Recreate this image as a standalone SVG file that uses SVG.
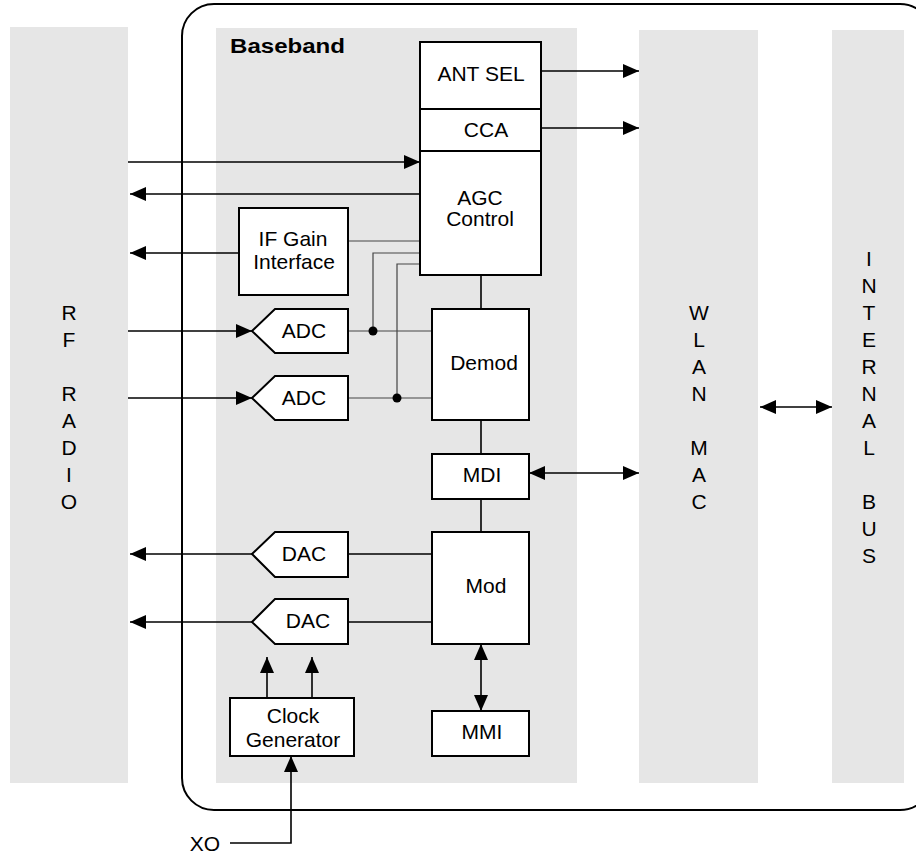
<svg xmlns="http://www.w3.org/2000/svg" width="916" height="855" viewBox="0 0 916 855">
<style>
.panel{fill:#e6e6e6;stroke:none}
.box{fill:#fff;stroke:#000;stroke-width:2}
.t{font-family:"Liberation Sans",Arial,sans-serif;font-size:21px;fill:#000;text-anchor:middle}
.b{font-family:"Liberation Sans",Arial,sans-serif;font-size:20px;font-weight:bold;fill:#000}
.ln{fill:none;stroke:#000;stroke-width:1.6}
.lg{fill:none;stroke:#444;stroke-width:1.2}
</style>
<defs>
<marker id="ah" markerUnits="userSpaceOnUse" markerWidth="17" markerHeight="15" refX="16" refY="7" orient="auto-start-reverse" viewBox="0 0 17 15">
<path d="M0,0 L16,7 L0,14 z" fill="#000"/>
</marker>
</defs>
<rect width="916" height="855" fill="#fff"/>
<g id="rf-radio">
<rect class="panel" x="10" y="27" width="118" height="756"/>
<text class="t" x="69" y="319.5">R</text>
<text class="t" x="69" y="346.5">F</text>
<text class="t" x="69" y="400.5">R</text>
<text class="t" x="69" y="427.5">A</text>
<text class="t" x="69" y="454.5">D</text>
<text class="t" x="69" y="481.5">I</text>
<text class="t" x="69" y="508.5">O</text>
</g>
<g id="outer-chip">
<rect x="182" y="4" width="750" height="806" rx="32" ry="32" fill="none" stroke="#000" stroke-width="2"/>
</g>
<g id="baseband">
<rect class="panel" x="216" y="28" width="361" height="755"/>
<text class="b" x="230" y="53" textLength="115" lengthAdjust="spacingAndGlyphs">Baseband</text>
</g>
<g id="wlan-mac">
<rect class="panel" x="639" y="30" width="119" height="753"/>
<text class="t" x="699" y="319.5">W</text>
<text class="t" x="699" y="346.5">L</text>
<text class="t" x="699" y="373.5">A</text>
<text class="t" x="699" y="400.5">N</text>
<text class="t" x="699" y="454.5">M</text>
<text class="t" x="699" y="481.5">A</text>
<text class="t" x="699" y="508.5">C</text>
</g>
<g id="internal-bus">
<rect class="panel" x="832" y="30" width="72" height="753"/>
<text class="t" x="869" y="265.5">I</text>
<text class="t" x="869" y="292.5">N</text>
<text class="t" x="869" y="319.5">T</text>
<text class="t" x="869" y="346.5">E</text>
<text class="t" x="869" y="373.5">R</text>
<text class="t" x="869" y="400.5">N</text>
<text class="t" x="869" y="427.5">A</text>
<text class="t" x="869" y="454.5">L</text>
<text class="t" x="869" y="508.5">B</text>
<text class="t" x="869" y="535.5">U</text>
<text class="t" x="869" y="562.5">S</text>
</g>
<g id="connectors">
<line class="ln" x1="541" y1="71" x2="639" y2="71" marker-end="url(#ah)"/>
<line class="ln" x1="541" y1="128" x2="639" y2="128" marker-end="url(#ah)"/>
<line class="ln" x1="128" y1="162" x2="420" y2="162" marker-end="url(#ah)"/>
<line class="ln" x1="420" y1="194" x2="130" y2="194" marker-end="url(#ah)"/>
<line class="ln" x1="239" y1="253" x2="130" y2="253" marker-end="url(#ah)"/>
<line class="lg" x1="348" y1="241" x2="420" y2="241"/>
<polyline class="lg" points="420,253 373,253 373,331"/>
<polyline class="lg" points="420,264 397,264 397,398"/>
<line class="ln" x1="481" y1="275" x2="481" y2="309"/>
<line class="ln" x1="128" y1="331" x2="252" y2="331" marker-end="url(#ah)"/>
<line class="ln" x1="128" y1="398" x2="252" y2="398" marker-end="url(#ah)"/>
<line class="lg" x1="348" y1="331" x2="432" y2="331"/>
<line class="lg" x1="348" y1="398" x2="432" y2="398"/>
<circle cx="373" cy="331" r="4.5" fill="#000"/>
<circle cx="397" cy="398" r="4.5" fill="#000"/>
<line class="ln" x1="481" y1="420" x2="481" y2="454"/>
<line class="ln" x1="529" y1="473" x2="639" y2="473" marker-start="url(#ah)" marker-end="url(#ah)"/>
<line class="ln" x1="481" y1="499" x2="481" y2="532"/>
<line class="ln" x1="432" y1="554" x2="348" y2="554"/>
<line class="ln" x1="432" y1="622" x2="348" y2="622"/>
<line class="ln" x1="252" y1="554" x2="130" y2="554" marker-end="url(#ah)"/>
<line class="ln" x1="252" y1="622" x2="130" y2="622" marker-end="url(#ah)"/>
<line class="ln" x1="481" y1="644" x2="481" y2="711" marker-start="url(#ah)" marker-end="url(#ah)"/>
<line class="ln" x1="267" y1="698" x2="267" y2="657" marker-end="url(#ah)"/>
<line class="ln" x1="312" y1="698" x2="312" y2="657" marker-end="url(#ah)"/>
<polyline class="ln" points="230,843 291,843 291,756" marker-end="url(#ah)"/>
<line class="ln" x1="760" y1="407" x2="832" y2="407" marker-start="url(#ah)" marker-end="url(#ah)"/>
</g>
<g id="ant-sel">
<rect class="box" x="420" y="42" width="121" height="67"/>
<text class="t" x="481" y="81">ANT SEL</text>
</g>
<g id="cca">
<rect class="box" x="420" y="109" width="121" height="42"/>
<text class="t" x="486" y="137">CCA</text>
</g>
<g id="agc-control">
<rect class="box" x="420" y="151" width="121" height="124"/>
<text class="t" x="480" y="205">AGC</text>
<text class="t" x="480" y="226">Control</text>
</g>
<g id="if-gain">
<rect class="box" x="239" y="208" width="109" height="87"/>
<text class="t" x="293" y="246">IF Gain</text>
<text class="t" x="294" y="269">Interface</text>
</g>
<g id="adc1">
<path class="box" d="M252,331 L275,309 L348,309 L348,353 L275,353 Z"/>
<text class="t" x="304" y="338">ADC</text>
</g>
<g id="adc2">
<path class="box" d="M252,398 L275,376 L348,376 L348,420 L275,420 Z"/>
<text class="t" x="304" y="405">ADC</text>
</g>
<g id="demod">
<rect class="box" x="432" y="309" width="97" height="111"/>
<text class="t" x="484" y="370">Demod</text>
</g>
<g id="mdi">
<rect class="box" x="432" y="454" width="97" height="45"/>
<text class="t" x="482" y="482">MDI</text>
</g>
<g id="dac1">
<path class="box" d="M252,554 L275,532 L348,532 L348,577 L275,577 Z"/>
<text class="t" x="304" y="561">DAC</text>
</g>
<g id="dac2">
<path class="box" d="M252,622 L275,599 L348,599 L348,644 L275,644 Z"/>
<text class="t" x="308" y="628">DAC</text>
</g>
<g id="mod">
<rect class="box" x="432" y="532" width="97" height="112"/>
<text class="t" x="486" y="593">Mod</text>
</g>
<g id="clock-generator">
<rect class="box" x="230" y="698" width="124" height="58"/>
<text class="t" x="293" y="723">Clock</text>
<text class="t" x="293" y="747">Generator</text>
</g>
<g id="mmi">
<rect class="box" x="432" y="711" width="97" height="45"/>
<text class="t" x="482" y="739">MMI</text>
</g>
<g id="xo">
<text class="t" x="205" y="851">XO</text>
</g>
</svg>
